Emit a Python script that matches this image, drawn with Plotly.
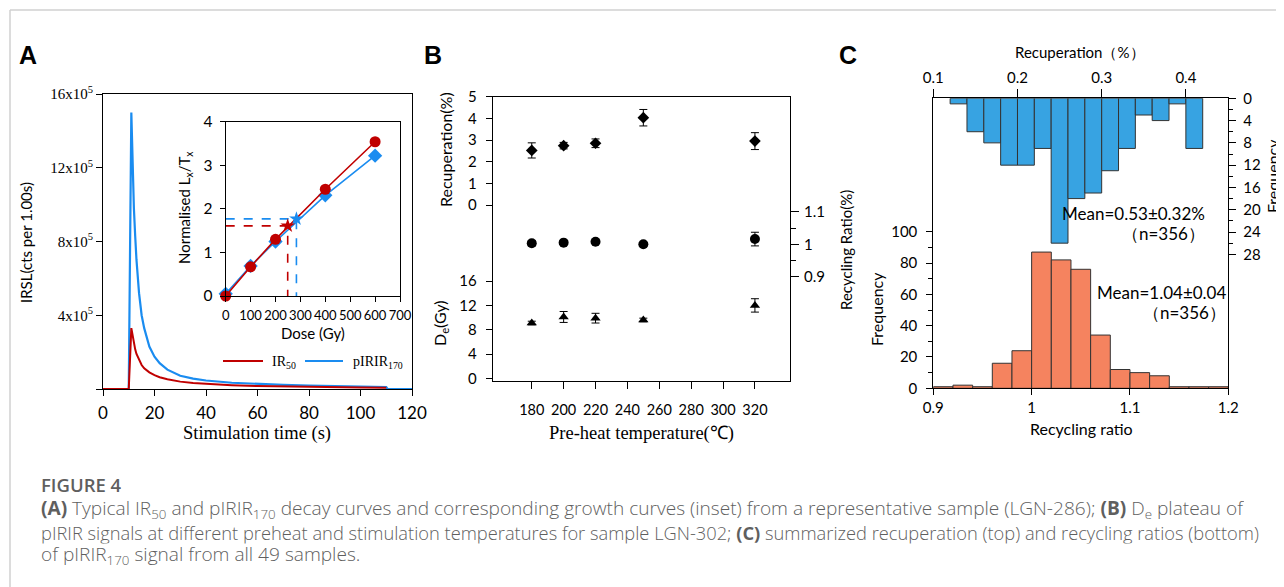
import plotly.graph_objects as go

# ---------------- DATA ----------------
# Panel A: decay curves (counts in units of 1e5 per 1.00 s)
time_blue_s = [0, 10, 11, 11.5, 12, 12.5, 13, 14, 15, 16, 17, 18, 20, 22, 25, 30, 35, 40, 50, 60, 70, 80, 90, 100, 110, 110.5, 120]
pirir170_1e5 = [0, 0, 15.0, 12.0, 9.8, 8.3, 7.0, 5.2, 4.0, 3.3, 2.75, 2.3, 1.75, 1.4, 1.05, 0.72, 0.56, 0.46, 0.34, 0.27, 0.22, 0.18, 0.15, 0.12, 0.10, 0, 0]
time_red_s = [0, 10, 11, 11.5, 12, 12.5, 13, 14, 15, 16, 17, 18, 20, 22, 25, 30, 35, 40, 50, 60, 70, 80, 90, 100, 110]
ir50_1e5 = [0, 0, 3.3, 2.85, 2.45, 2.15, 1.9, 1.55, 1.3, 1.12, 1.0, 0.9, 0.75, 0.64, 0.53, 0.40, 0.33, 0.28, 0.21, 0.16, 0.13, 0.11, 0.09, 0.08, 0.07]
y_ticks_A = [0, 4, 8, 12, 16]
y_ticktext_A = ["", "4x10<sup>5</sup>", "8x10<sup>5</sup>", "12x10<sup>5</sup>", "16x10<sup>5</sup>"]
series_names_A = ["IR<sub>50</sub>", "pIRIR<sub>170</sub>"]

# Panel A inset: growth curves
dose_gy = [0, 100, 200, 400, 600]
ir50_lxtx = [0.0, 0.67, 1.30, 2.45, 3.54]
pirir_lxtx = [0.05, 0.69, 1.25, 2.31, 3.22]
ir50_de, ir50_ln = 249, 1.61
pirir_de, pirir_ln = 284, 1.77

# Panel B: preheat plateau
preheat_c = [180, 200, 220, 250, 320]
recup_pct = [2.52, 2.74, 2.85, 4.03, 2.95]
recup_err = [0.35, 0.15, 0.20, 0.38, 0.39]
recyc_ratio = [1.003, 1.005, 1.008, 1.000, 1.016]
recyc_err = [0.008, 0.0, 0.0, 0.0, 0.021]
de_gy = [9.1, 10.1, 9.9, 9.6, 12.0]
de_err = [0.3, 0.9, 0.8, 0.3, 1.1]
preheat_ticks = [180, 200, 220, 240, 260, 280, 300, 320]

# Panel C: histograms
recup_bin_centers = [0.13, 0.15, 0.17, 0.19, 0.21, 0.23, 0.25, 0.27, 0.29, 0.31, 0.33, 0.35, 0.37, 0.39, 0.41]
recup_counts = [1, 6, 8, 12, 12, 9, 26, 18, 17, 13, 9, 3, 4, 1, 9]
ratio_bin_centers = [0.91, 0.93, 0.95, 0.97, 0.99, 1.01, 1.03, 1.05, 1.07, 1.09, 1.11, 1.13, 1.15, 1.17, 1.19]
ratio_counts = [1, 2, 1, 16, 24, 87, 82, 76, 34, 12, 10, 8, 1, 1, 1]

# ---------------- LAYOUT HELPERS ----------------
# the page body adds an 8 px margin; positions below are in window pixels
OFF = 8
W, H = 1284 - OFF, 587 - OFF
def fx(px): return (px - OFF) / W
def fy(py): return 1 - (py - OFF) / H

RED = "#C00000"
BLUE = "#1A8CF0"
SANS = "Lato"
SERIF = "Liberation Serif"

fig = go.Figure()

# ---- Panel A main ----
fig.add_trace(go.Scatter(x=time_blue_s, y=pirir170_1e5, mode="lines", line=dict(color=BLUE, width=2.2),
                         name=series_names_A[1], xaxis="x", yaxis="y", showlegend=False))
fig.add_trace(go.Scatter(x=time_red_s, y=ir50_1e5, mode="lines", line=dict(color=RED, width=2),
                         name=series_names_A[0], xaxis="x", yaxis="y", showlegend=False))

# ---- Inset ----
fig.add_trace(go.Scatter(x=[0, ir50_de, ir50_de], y=[ir50_ln, ir50_ln, 0], mode="lines",
                         line=dict(color=RED, width=1.6, dash="dash"), xaxis="x2", yaxis="y2", showlegend=False))
fig.add_trace(go.Scatter(x=[0, pirir_de, pirir_de], y=[pirir_ln, pirir_ln, 0], mode="lines",
                         line=dict(color=BLUE, width=1.6, dash="dash"), xaxis="x2", yaxis="y2", showlegend=False))
fig.add_trace(go.Scatter(x=dose_gy, y=pirir_lxtx, mode="lines+markers", cliponaxis=False,
                         line=dict(color=BLUE, width=1.6), marker=dict(symbol="diamond", size=11, color=BLUE),
                         xaxis="x2", yaxis="y2", showlegend=False))
fig.add_trace(go.Scatter(x=dose_gy, y=ir50_lxtx, mode="lines+markers", cliponaxis=False,
                         line=dict(color=RED, width=1.6), marker=dict(symbol="circle", size=11, color=RED),
                         xaxis="x2", yaxis="y2", showlegend=False))
fig.add_trace(go.Scatter(x=[pirir_de], y=[pirir_ln], mode="markers", marker=dict(symbol="star", size=11, color=BLUE),
                         xaxis="x2", yaxis="y2", showlegend=False))
fig.add_trace(go.Scatter(x=[ir50_de], y=[ir50_ln], mode="markers", marker=dict(symbol="star", size=11, color=RED),
                         xaxis="x2", yaxis="y2", showlegend=False))

# ---- Panel B ----
errstyle = dict(type="data", visible=True, color="black", thickness=1, width=4)
fig.add_trace(go.Scatter(x=preheat_c, y=recup_pct, mode="markers",
                         error_y=dict(array=recup_err, **errstyle),
                         marker=dict(symbol="diamond", size=9, color="black"),
                         xaxis="x3", yaxis="y3", showlegend=False))
fig.add_trace(go.Scatter(x=preheat_c, y=de_gy, mode="markers",
                         error_y=dict(array=de_err, **errstyle),
                         marker=dict(symbol="triangle-up", size=9, color="black"),
                         xaxis="x3", yaxis="y4", showlegend=False))
fig.add_trace(go.Scatter(x=preheat_c, y=recyc_ratio, mode="markers",
                         error_y=dict(array=recyc_err, **errstyle),
                         marker=dict(symbol="circle", size=10, color="black"),
                         xaxis="x3", yaxis="y5", showlegend=False))

# ---- Panel C ----
fig.add_trace(go.Bar(x=ratio_bin_centers, y=ratio_counts, width=0.02,
                     marker=dict(color="#F5835F", line=dict(color="#333333", width=1)),
                     xaxis="x4", yaxis="y6", showlegend=False))
fig.add_trace(go.Bar(x=recup_bin_centers, y=recup_counts, width=0.02,
                     marker=dict(color="#37A3E2", line=dict(color="#333333", width=1)),
                     xaxis="x5", yaxis="y7", showlegend=False))

# ---------------- AXES ----------------
ax_common = dict(showgrid=False, zeroline=False, showline=True, linecolor="black", linewidth=1,
                 ticks="outside", tickcolor="black", tickwidth=1, tickangle=0)

A_x = [fx(103), fx(412)]
A_y = [fy(389), fy(94)]
I_x = [fx(225.7), fx(400)]
I_y = [fy(296), fy(121.7)]
B_x = [fx(492.7), fx(790)]
B_y = [fy(381), fy(96.7)]
C_x = [fx(933.3), fx(1228.3)]
C_y = [fy(388.3), fy(98.3)]

layout = dict(
    width=W, height=H, autosize=False,
    margin=dict(l=0, r=0, t=0, b=0, pad=0, autoexpand=False),
    paper_bgcolor="white", plot_bgcolor="rgba(0,0,0,0)",
    barmode="overlay", showlegend=False,
    font=dict(family=SANS, color="black"),
    xaxis=dict(domain=A_x, anchor="y", range=[0, 120], tickvals=[0, 20, 40, 60, 80, 100, 120],
               mirror=True, ticklen=6, ticklabelstandoff=3, tickfont=dict(family=SANS, size=17), **ax_common),
    yaxis=dict(domain=A_y, anchor="x", range=[0, 16], tickvals=y_ticks_A, ticktext=y_ticktext_A,
               mirror=True, ticklen=6, tickfont=dict(family=SERIF, size=15), **ax_common),
    xaxis2=dict(domain=I_x, anchor="y2", range=[0, 700], tickvals=[0, 100, 200, 300, 400, 500, 600, 700],
                mirror=True, ticklen=5, ticklabelstandoff=2, tickfont=dict(family=SANS, size=13), **ax_common),
    yaxis2=dict(domain=I_y, anchor="x2", range=[0, 4], tickvals=[0, 1, 2, 3, 4],
                mirror=True, ticklen=5, ticklabelstandoff=4, tickfont=dict(family=SANS, size=15.5), **ax_common),
    xaxis3=dict(domain=B_x, anchor="y3", range=[155.5, 342], tickvals=preheat_ticks,
                mirror=True, ticklen=7, ticklabelstandoff=9, tickfont=dict(family=SANS, size=14.5), **ax_common),
    yaxis3=dict(domain=B_y, anchor="x3", range=[-8.125, 5], tickvals=[0, 1, 2, 3, 4, 5],
                ticklen=6, ticklabelstandoff=6, tickfont=dict(family=SANS, size=15), **ax_common),
    yaxis4=dict(domain=B_y, anchor="x3", overlaying="y3", range=[-0.44, 46.35], tickvals=[0, 4, 8, 12, 16],
                showgrid=False, zeroline=False, showline=False, ticks="outside", tickcolor="black",
                ticklen=6, ticklabelstandoff=6, tickfont=dict(family=SANS, size=15)),
    yaxis5=dict(domain=B_y, anchor="x3", overlaying="y3", side="right", range=[0.5794, 1.454],
                tickvals=[0.9, 1.0, 1.1], ticktext=["0.9", "1", "1.1"], ticklen=8, ticklabelstandoff=2,
                minor=dict(tickvals=[0.95, 1.05], ticks="outside", ticklen=5, tickcolor="black"),
                tickfont=dict(family=SANS, size=15), **ax_common),
    xaxis4=dict(domain=C_x, anchor="y6", range=[0.9, 1.2], tickvals=[0.9, 1.0, 1.1, 1.2],
                ticktext=["0.9", "1", "1.1", "1.2"], ticklen=6,
                tickfont=dict(family=SANS, size=15), **ax_common),
    yaxis6=dict(domain=C_y, anchor="x4", range=[0, 185.2], tickvals=[0, 20, 40, 60, 80, 100], ticklen=6,
                ticklabelstandoff=6,
                minor=dict(tickvals=[10, 30, 50, 70, 90], ticks="outside", ticklen=4, tickcolor="black"),
                tickfont=dict(family=SANS, size=15), **ax_common),
    xaxis5=dict(domain=C_x, anchor="y7", overlaying="x4", side="top", range=[0.1, 0.4504],
                tickvals=[0.1, 0.2, 0.3, 0.4], ticklen=8,
                tickfont=dict(family=SANS, size=15), **ax_common),
    yaxis7=dict(domain=C_y, anchor="x5", overlaying="y6", side="right", range=[52.05, 0],
                tickvals=[0, 4, 8, 12, 16, 20, 24, 28], ticklen=7, ticklabelstandoff=4,
                minor=dict(tickvals=[2, 6, 10, 14, 18, 22, 26], ticks="outside", ticklen=4, tickcolor="black"),
                tickfont=dict(family=SANS, size=15), **ax_common),
)
fig.update_layout(**layout)

# ---------------- TEXT ----------------
def ann(text, x, y, size=14, family=SANS, angle=0, color="black", xanchor="center", weight=None, height=None):
    f = dict(family=family, size=size, color=color)
    if weight is not None:
        f["weight"] = weight
    extra = {}
    if height is not None:
        extra = dict(height=height, borderpad=0, valign="middle")
    fig.add_annotation(text=text, x=fx(x), y=fy(y), xref="paper", yref="paper", showarrow=False,
                       textangle=angle, xanchor=xanchor, yanchor="middle", font=f, **extra)

# panel letters
ann("<b>A</b>", 28, 55, size=25, family="Liberation Sans")
ann("<b>B</b>", 433, 55, size=25, family="Liberation Sans")
ann("<b>C</b>", 848, 55, size=25, family="Liberation Sans")

# panel A titles and legend
ann("IRSL(cts per 1.00s)", 26, 243, size=15, angle=-90)
ann("Stimulation time (s)", 257, 434, size=18.5, family=SERIF)
ann("Normalised L<sub>x</sub>/T<sub>x</sub>", 185, 208, size=15, angle=-90)
ann("Dose (Gy)", 313, 333, size=15)
for (x0, x1, col) in [(223, 263, RED), (305, 343, BLUE)]:
    fig.add_shape(type="line", xref="paper", yref="paper", x0=fx(x0), x1=fx(x1), y0=fy(361), y1=fy(361),
                  line=dict(color=col, width=2.2))
ann(series_names_A[0], 270, 362, size=14, family=SERIF, xanchor="left")
ann(series_names_A[1], 351, 362, size=14, family=SERIF, xanchor="left")

# panel B titles
ann("Recuperation(%)", 445, 150, size=16, angle=-90)
ann("D<sub>e</sub>(Gy)", 440, 323, size=16, angle=-90)
ann("Recycling Ratio(%)", 846, 250, size=15, angle=-90)
ann("Pre-heat temperature(\u2103)", 641, 433, size=18.5, family=SERIF)

# panel C titles
ann("Recuperation\uff08%\uff09", 1080, 52, size=15)
ann("Frequency", 876, 309, size=16, angle=-90)
ann("Frequency", 1273, 176, size=16, angle=-90)
ann("Recycling ratio", 1081, 428, size=16)
ann("Mean=0.53\u00b10.32%", 1207, 213, size=17, xanchor="right")
ann("\uff08n=356\uff09", 1207, 233, size=17, xanchor="right")
ann("Mean=1.04\u00b10.04", 1228, 292, size=17, xanchor="right")
ann("\uff08n=356\uff09", 1228, 312, size=17, xanchor="right")

# caption
CAP = "#5f5f5f"
CAPF = "Open Sans"
ann("FIGURE 4", 40, 484, size=18.5, family=CAPF, color=CAP, xanchor="left", weight=600, height=22)
ann("<b>(A)</b> Typical IR<sub>50</sub> and pIRIR<sub>170</sub> decay curves and corresponding growth curves (inset) from a representative sample (LGN-286); <b>(B)</b> D<sub>e</sub> plateau of",
    40, 509, size=19.1, family=CAPF, color=CAP, xanchor="left", weight=300, height=22.5)
ann("pIRIR signals at different preheat and stimulation temperatures for sample LGN-302; <b>(C)</b> summarized recuperation (top) and recycling ratios (bottom)",
    40, 532, size=18.3, family=CAPF, color=CAP, xanchor="left", weight=300, height=22.5)
ann("of pIRIR<sub>170</sub> signal from all 49 samples.", 40, 555, size=19.1, family=CAPF, color=CAP,
    xanchor="left", weight=300, height=22.5)

# page border lines
fig.add_shape(type="line", xref="paper", yref="paper", x0=fx(10), x1=1, y0=fy(10), y1=fy(10),
              line=dict(color="#d0d0d0", width=1.5))
fig.add_shape(type="line", xref="paper", yref="paper", x0=fx(10), x1=fx(10), y0=fy(10), y1=0,
              line=dict(color="#d0d0d0", width=1.5))

fig.write_html("out.html")
